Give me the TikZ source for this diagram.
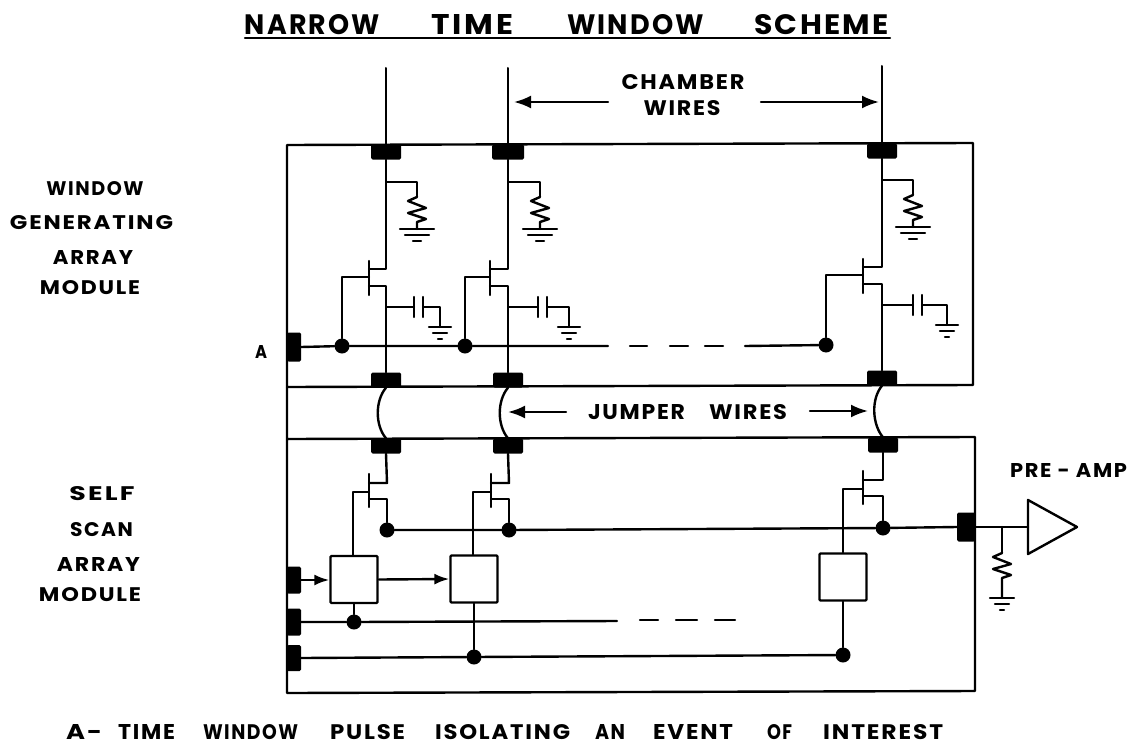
\documentclass[tikz,border=0pt]{standalone}
\usepackage{fontspec}
\usepackage{graphicx}
\setmainfont{Poppins}[LetterSpace=8]
\usetikzlibrary{arrows.meta,calc}
\tikzset{
  x=1pt,y=-1pt,
  wire/.style={line width=2.4pt,line cap=round,line join=round,black},
  thin wire/.style={line width=2pt,line cap=round,line join=round,black},
  frame/.style={line width=2.4pt,line join=round,black},
  pad/.style={fill=black,draw=none,rectangle,rounded corners=1.5pt,inner sep=0pt,minimum width=30pt,minimum height=15pt},
  sidepad/.style={pad,minimum width=14pt,minimum height=27pt},
  jdot/.style={fill=black,draw=none,circle,inner sep=0pt,minimum size=15pt},
  block/.style={draw=black,line width=2.4pt,fill=white,rectangle,rounded corners=1pt,inner sep=0pt,minimum width=47pt,minimum height=47pt},
  bigarrow/.style={wire,-{Latex[length=17pt,width=13pt]}},
  smallarrow/.style={wire,-{Latex[length=15pt,width=11pt]}},
  lab/.style={inner sep=0pt,outer sep=0pt,font=\bfseries},
}
% one word fitted to a width and cap height
\newcommand\fw[3]{\resizebox{#1pt}{#2pt}{#3}}
% text fitted to a width and cap height: name, centre x, centre y, width, height, text
\newcommand\lbl[6]{\node[lab] (#1) at (#2,#3) {\fw{#4}{#5}{#6}};}
% ground: x, y, half widths of the three bars
\newcommand\gnd[5]{%
  \draw[wire] (#1-#3,#2) -- (#1+#3,#2);
  \draw[wire] (#1-#4,#2+6) -- (#1+#4,#2+6);
  \draw[wire] (#1-#5,#2+12) -- (#1+#5,#2+12);}
% zigzag resistor going down from (x,y): x, y, lead end y
\newcommand\resist[3]{%
  \draw[wire] (#1,#2) -- ++(-9,4) -- ++(18,7) -- ++(-18,5) -- ++(18,6) -- ++(-9,3) -- (#1,#3);}
% upper stage: id, wire x, bar x, gate x, y shift, resistor x, plate x, cap end x, bus dot
\newcommand\ustage[9]{%
  \draw[wire] (pt#1.south) -- (#2,269+#5) -- (#3,269+#5);
  \draw[wire] (#3,286+#5) -- (#2,286+#5) -- (pm#1.north);
  \draw[wire] (#3,261+#5) -- (#3,295+#5);
  \draw[wire] (#3,277+#5) -- (#4,277+#5) -- (#9.north);
  \draw[thin wire] (#2,182+#5) -- (#6,182+#5) -- (#6,197+#5);
  \resist{#6}{197+#5}{229+#5}
  \gnd{#6}{229+#5}{17}{12}{4}
  \draw[thin wire] (#2,307+#5) -- (#7,307+#5);
  \draw[wire] (#7,297+#5) -- (#7,317+#5);
  \draw[wire] (#7+9,297+#5) -- (#7+9,317+#5);
  \draw[thin wire] (#7+9,307+#5) -- (#8,307+#5) -- (#8,327+#5);
  \gnd{#8}{327+#5}{11}{7}{2}
}
% lower stage: id, wire x, bar x, gate x, y shift, block name, bus dot
\newcommand\lstage[7]{%
  \draw[wire] (pl#1.south) -- (#2,483+#5) -- (#3,483+#5);
  \draw[wire] (#3,499+#5) -- (#2,499+#5) -- (#7.north);
  \draw[wire] (#3,474+#5) -- (#3,507+#5);
  \draw[wire] (#3,492+#5) -- (#4,492+#5) -- (#6.north-|#4,0);
}
\begin{document}
\begin{tikzpicture}
\useasboundingbox (0,0) rectangle (1139,749);
\fill[white] (0,0) rectangle (1139,749);

% module frames
\draw[frame] (287,387) -- (287,145) -- (973,143) -- (973,385) -- cycle;
\draw[frame] (287,387) -- (287,693) -- (975,691) -- (975,437) -- (287,439);

% pads
\node[pad] (pt1) at (386,152) {};
\node[pad,minimum width=32pt] (pt2) at (508,152) {};
\node[pad] (pt3) at (882,151) {};
\node[pad] (pm1) at (386,380) {};
\node[pad] (pm2) at (508,380) {};
\node[pad] (pm3) at (882,378) {};
\node[pad] (pl1) at (386,446) {};
\node[pad] (pl2) at (508,446) {};
\node[pad] (pl3) at (883,445) {};
\node[sidepad,minimum height=29pt] (pA) at (294,347) {};
\node[sidepad] (pS1) at (294,580) {};
\node[sidepad] (pS2) at (294,622) {};
\node[sidepad,minimum height=26pt] (pS3) at (294,658) {};
\node[sidepad,minimum width=18pt,minimum height=29pt] (pO) at (966,527) {};

% chamber wires
\coordinate (c1) at (386,68);
\coordinate (c2) at (508,68);
\coordinate (c3) at (882,66);
\draw[thin wire] (c1) -- (pt1.north);
\draw[thin wire] (c2) -- (pt2.north);
\draw[thin wire] (c3) -- (pt3.north);

% jumper wires
\draw[wire] (pm1.south) .. controls +(-11,13) and +(-11,-13) .. (pl1.north);
\draw[wire] (pm2.south) .. controls +(-11,13) and +(-11,-13) .. (pl2.north);
\draw[wire] (pm3.south) .. controls +(-11,13) and +(-11,-13) .. (pl3.north);

% junction dots
\node[jdot] (dA1) at (342,346) {};
\node[jdot] (dA2) at (465,346) {};
\node[jdot] (dA3) at (826,345) {};
\node[jdot] (dO1) at (387,530) {};
\node[jdot] (dO2) at (509,530) {};
\node[jdot] (dO3) at (883,528) {};
\node[jdot] (dS1) at (354,622) {};
\node[jdot] (dS2) at (474,657) {};
\node[jdot] (dS3) at (843,655) {};

% upper stages
\ustage{1}{386}{369}{342}{0}{417}{414}{440}{dA1}
\ustage{2}{508}{490}{465}{0}{540}{538}{569}{dA2}
\ustage{3}{882}{863}{826}{-2}{913}{913}{947}{dA3}

% window bus
\coordinate (busend) at (608,346);
\coordinate (busstart) at (745,346);
\draw[wire] (pA.east) -- (dA1) -- (dA2) -- (busend);
\draw[wire] (630,346) -- (647,346);
\draw[wire] (670,346) -- (688,346);
\draw[wire] (705,346) -- (723,346);
\draw[wire] (busstart) -- (dA3);

% blocks
\node[block] (b1) at (354,579.5) {};
\node[block] (b2) at (474,579) {};
\node[block] (b3) at (843,577) {};

% lower stages
\lstage{1}{387}{369}{353}{0}{b1}{dO1}
\lstage{2}{509}{491}{473}{0}{b2}{dO2}
\lstage{3}{883}{863}{843}{-3}{b3}{dO3}

% output bus and pre-amp
\coordinate (ampin) at (1028,527);
\draw[wire] (dO1) -- (dO2) -- (dO3) -- (pO.west);
\draw[wire] (pO.east) -- (ampin);
\draw[frame] (1028,500) -- (1077,527) -- (1028,554) -- cycle;
\coordinate (rt) at (1002,527);
\draw[wire] (rt) -- (1002,553);
\resist{1002}{553}{598}
\gnd{1002}{598}{12}{7}{2}

% select lines
\draw[smallarrow] (pS1.east) -- (b1.west|-pS1.east);
\draw[smallarrow] (b1.east) -- (b2.west);
\coordinate (selend) at (617,621);
\draw[wire] (pS2.east) -- (dS1) -- (selend);
\draw[wire] (640,620) -- (658,620);
\draw[wire] (676,620) -- (697,620);
\draw[wire] (715,620) -- (735,620);
\draw[wire] (pS3.east) -- (dS2) -- (dS3);
\draw[wire] (b1.south) -- (dS1);
\draw[wire] (b2.south) -- (dS2);
\draw[wire] (b3.south) -- (dS3);

% dimension arrows
\coordinate (ca1) at (608,102);
\coordinate (ca2) at (514,102);
\coordinate (ca3) at (761,102);
\coordinate (ca4) at (879,102);
\draw[bigarrow] (ca1) -- (ca2);
\draw[bigarrow] (ca3) -- (ca4);
\coordinate (ja1) at (566,412);
\coordinate (ja2) at (508,412);
\coordinate (ja3) at (810,411);
\coordinate (ja4) at (868,411);
\draw[bigarrow] (ja1) -- (ja2);
\draw[bigarrow] (ja3) -- (ja4);

% title
\node[lab] (title) at (567,25) {\fw{135}{20}{NARROW}\hspace{52pt}\fw{81}{20}{TIME}\hspace{54pt}\fw{137}{20}{WINDOW}\hspace{50pt}\fw{135}{20}{SCHEME}};
\coordinate (ul1) at (245,38);
\coordinate (ul2) at (890,38);
\draw[wire] (ul1) -- (ul2);

% labels
\lbl{ch1}{683}{82.5}{123}{15}{CHAMBER}
\lbl{ch2}{682}{108}{77}{15}{WIRES}
\node[lab] (jw) at (687.5,412) {\fw{97}{15}{JUMPER}\hspace{24pt}\fw{78}{15}{WIRES}};
\lbl{l1}{95}{189}{97}{14}{WINDOW}
\lbl{l2}{91.5}{222.5}{163}{14}{GENERATING}
\lbl{l3}{93}{257}{80}{14}{ARRAY}
\lbl{l4}{90}{287.5}{100}{14}{MODULE}
\lbl{lA}{261}{351.5}{12}{13}{A}
\lbl{l5}{102}{494}{65}{14}{SELF}
\lbl{l6}{101.5}{529.5}{63}{14}{SCAN}
\lbl{l7}{98.5}{564.5}{83}{14}{ARRAY}
\lbl{l8}{90}{594.5}{102}{14}{MODULE}
\node[lab] (pre) at (1068.5,470) {\fw{117}{14}{PRE - AMP}};
\node[lab,anchor=west] (foot) at (66,732.5) {\fw{36}{15}{A-}\hspace{16pt}\fw{57}{15}{TIME}\hspace{28pt}\fw{95}{15}{WINDOW}\hspace{32pt}\fw{75}{15}{PULSE}\hspace{30pt}\fw{135}{15}{ISOLATING}\hspace{25pt}\fw{30}{15}{AN}\hspace{28pt}\fw{80}{15}{EVENT}\hspace{34pt}\fw{25}{15}{OF}\hspace{31pt}\fw{120}{15}{INTEREST}};
\end{tikzpicture}
\end{document}
